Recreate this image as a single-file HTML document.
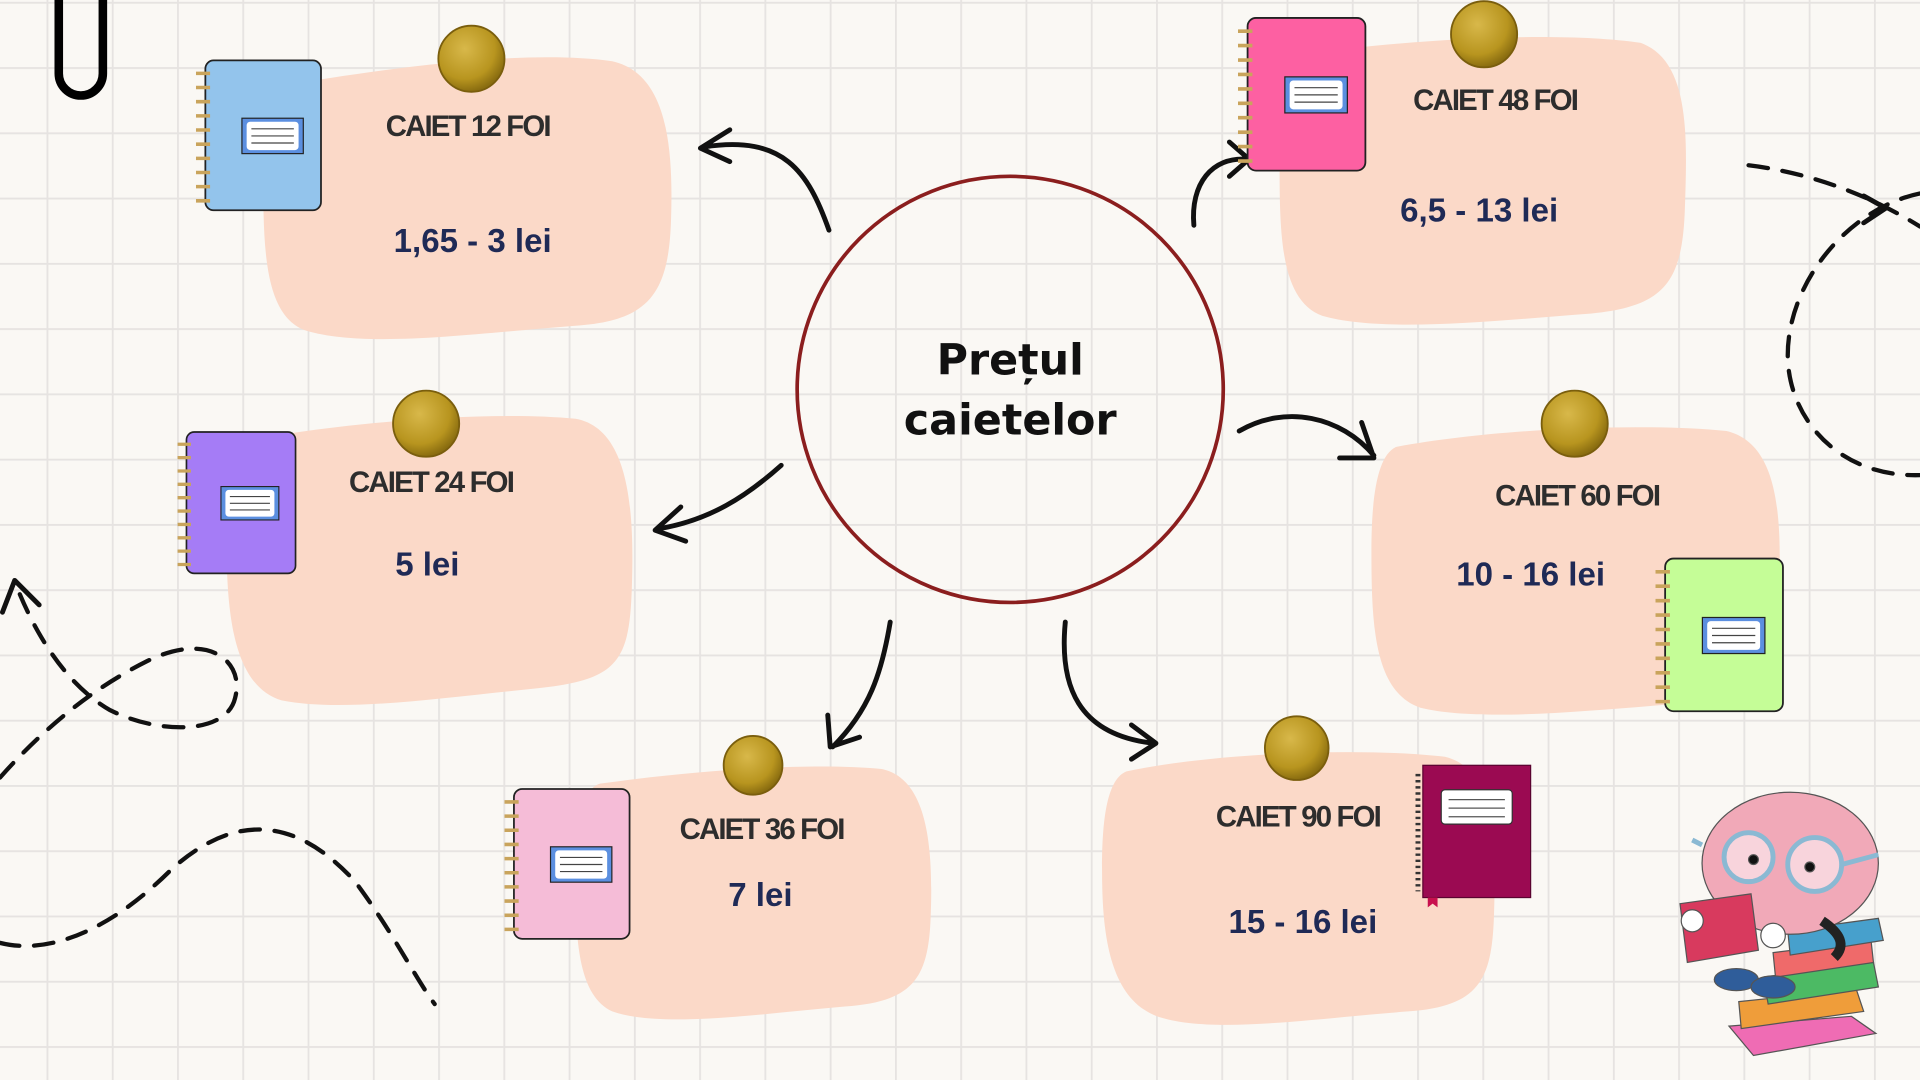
<!DOCTYPE html>
<html><head><meta charset="utf-8"><style>
html,body{margin:0;padding:0;background:#faf8f4;overflow:hidden}
svg{display:block}
.t{font-family:"Liberation Sans",sans-serif;font-weight:bold;font-size:24px;fill:#2d2d2d;letter-spacing:-1.5px}
.p{font-family:"Liberation Sans",sans-serif;font-weight:bold;font-size:27px;fill:#1f2a56}
.a{fill:none;stroke:#111;stroke-width:4;stroke-linecap:round;stroke-linejoin:round}
.d{fill:none;stroke:#111;stroke-width:3.5;stroke-dasharray:16 12;stroke-linecap:round}
</style></head><body>
<svg width="1920" height="1080" viewBox="0 0 1568 882" xmlns="http://www.w3.org/2000/svg">
<defs>
<pattern id="g" x="38" y="1.5" width="53.3" height="53.3" patternUnits="userSpaceOnUse">
<path d="M0 0V53.3M0 0H53.3" stroke="#e6e3e1" stroke-width="3"/>
</pattern>
<symbol id="nb" viewBox="0 0 110 130">
<rect x="8" y="1" width="98" height="127" rx="7" fill="currentColor" stroke="#222" stroke-width="1.5"/>
<g stroke="#c9a45c" stroke-width="3">
<path d="M0 12h12M0 24h12M0 36h12M0 48h12M0 60h12M0 72h12M0 84h12M0 96h12M0 108h12M0 120h12"/>
</g>
<rect x="39" y="50" width="52" height="30" fill="#5b8fe0" stroke="#222" stroke-width="1"/>
<rect x="43" y="53" width="44" height="24" rx="3" fill="#fff"/>
<path d="M47 59h36M47 65h36M47 71h36" stroke="#444" stroke-width="1"/>
</symbol>
<radialGradient id="gold" cx="40%" cy="35%" r="65%"><stop offset="0" stop-color="#d8b84a"/><stop offset=".7" stop-color="#b8951f"/><stop offset="1" stop-color="#8a6d10"/></radialGradient>
</defs>
<rect width="1568" height="882" fill="#faf8f4"/>
<rect width="1568" height="882" fill="url(#g)"/>

<path d="M48 0V60a18 18 0 0 0 36 0V0" fill="none" stroke="#000" stroke-width="7"/>

<g fill="#fbd9c8">
<path d="M230 70 C320 55 430 40 500 50 C545 60 550 120 548 180 C546 240 530 262 470 266 C390 272 300 285 250 270 C215 258 215 200 215 140 C215 95 218 75 230 70Z"/>
<path d="M200 360 C280 345 400 335 470 342 C515 350 518 420 516 480 C514 540 505 555 440 562 C360 570 280 582 230 572 C190 560 185 500 185 440 C185 390 188 365 200 360Z"/>
<path d="M490 640 C560 630 660 622 720 628 C760 636 762 700 760 750 C758 800 745 818 690 822 C620 828 540 840 500 826 C470 812 470 760 470 710 C470 670 475 645 490 640Z"/>
<path d="M1060 45 C1150 32 1270 25 1340 35 C1380 50 1378 110 1376 170 C1374 230 1360 250 1300 256 C1220 262 1130 272 1080 258 C1045 245 1045 190 1045 130 C1045 85 1048 50 1060 45Z"/>
<path d="M1140 365 C1220 350 1340 345 1410 352 C1452 362 1455 420 1453 480 C1451 540 1440 568 1380 574 C1300 580 1210 590 1160 578 C1122 565 1120 510 1120 450 C1120 405 1125 372 1140 365Z"/>
<path d="M920 630 C990 615 1110 610 1180 618 C1222 628 1222 690 1220 750 C1218 800 1208 822 1150 826 C1070 832 990 845 945 830 C905 815 900 760 900 710 C900 665 905 636 920 630Z"/>
</g>

<circle cx="825" cy="318" r="174" fill="none" stroke="#8b1e1e" stroke-width="3"/>
<text x="825" y="306" text-anchor="middle" font-family="DejaVu Sans,Liberation Sans,sans-serif" font-weight="bold" font-size="35" fill="#111">Prețul</text>
<text x="825" y="355" text-anchor="middle" font-family="DejaVu Sans,Liberation Sans,sans-serif" font-weight="bold" font-size="35" fill="#111">caietelor</text>

<path class="a" d="M677 188 C660 140 640 110 575 120 M596 106 L572 121 L596 132"/>
<path class="a" d="M975 184 C972 150 990 128 1018 130 M1004 116 L1020 130 L1004 144"/>
<path class="a" d="M638 380 C610 405 580 425 537 432 M556 414 L535 433 L560 442"/>
<path class="a" d="M1012 352 C1050 330 1095 340 1122 372 M1094 374 L1122 374 L1112 345"/>
<path class="a" d="M727 508 C720 550 710 580 680 610 M676 584 L678 610 L702 602"/>
<path class="a" d="M870 508 C865 560 880 600 942 607 M924 592 L944 607 L924 620"/>

<path class="d" d="M1428 135 C1470 140 1520 155 1568 185"/>
<path class="a" d="M1522 160 L1540 170 L1522 182" stroke-width="3.5"/>
<path class="d" d="M1568 158 C1510 170 1460 230 1460 290 C1460 340 1500 390 1568 388"/>
<path class="d" d="M0 635 C40 590 80 560 120 540 C170 515 200 540 192 570 C185 600 130 600 90 580 C55 560 30 520 14 480"/>
<path class="a" d="M2 500 L12 474 L32 494" stroke-width="3.5"/>
<path class="d" d="M0 770 C40 780 90 760 140 710 C190 665 240 665 290 720 C320 760 340 800 355 820"/>

<use href="#nb" x="160" y="46" width="106" height="130" color="#93c4ec"/>
<use href="#nb" x="145" y="350" width="100" height="122" color="#a57cf6"/>
<use href="#nb" x="412" y="641" width="106" height="130" color="#f5bcd7"/>
<use href="#nb" x="1011" y="12" width="108" height="131" color="#fd60a2"/>
<use href="#nb" x="1352" y="454" width="108" height="130" color="#c5fd97"/>
<g>
<rect x="1162" y="625" width="88" height="108" fill="#9b0a52" stroke="#5a0330" stroke-width="1"/>
<path d="M1158 632v96" stroke="#333" stroke-width="4" stroke-dasharray="2 3"/>
<rect x="1177" y="645" width="58" height="28" rx="3" fill="#fff" stroke="#333"/>
<path d="M1183 653h46M1183 660h46M1183 667h46" stroke="#555"/>
<path d="M1166 733v8l4-3 4 3v-8" fill="#c8104e"/>
</g>

<g fill="url(#gold)" stroke="#7a5e0d" stroke-width="1.5">
<circle cx="385" cy="48" r="27"/><circle cx="348" cy="346" r="27"/><circle cx="615" cy="625" r="24"/>
<circle cx="1212" cy="28" r="27"/><circle cx="1286" cy="346" r="27"/><circle cx="1059" cy="611" r="26"/>
</g>

<text class="t" x="382" y="111" text-anchor="middle">CAIET 12 FOI</text>
<text class="p" x="386" y="206" text-anchor="middle">1,65 - 3 lei</text>
<text class="t" x="352" y="402" text-anchor="middle">CAIET 24 FOI</text>
<text class="p" x="349" y="470" text-anchor="middle">5 lei</text>
<text class="t" x="622" y="685" text-anchor="middle">CAIET 36 FOI</text>
<text class="p" x="621" y="740" text-anchor="middle">7 lei</text>
<text class="t" x="1221" y="90" text-anchor="middle">CAIET 48 FOI</text>
<text class="p" x="1208" y="181" text-anchor="middle">6,5 - 13 lei</text>
<text class="t" x="1288" y="413" text-anchor="middle">CAIET 60 FOI</text>
<text class="p" x="1250" y="478" text-anchor="middle">10 - 16 lei</text>
<text class="t" x="1060" y="675" text-anchor="middle">CAIET 90 FOI</text>
<text class="p" x="1064" y="762" text-anchor="middle">15 - 16 lei</text>

<g stroke="#555" stroke-width="1">
<path d="M1412 838l100 -8 20 14 -100 18z" fill="#ef6cb4"/>
<path d="M1420 818l96 -10 6 18 -100 14z" fill="#ef9d3a"/>
<path d="M1440 798l90 -12 4 20 -90 14z" fill="#4cba64"/>
<path d="M1448 778l80 -10 2 18 -80 12z" fill="#ef6a6a"/>
<path d="M1460 760l74 -10 4 18 -76 12z" fill="#47a0cc"/>
<ellipse cx="1462" cy="705" rx="72" ry="58" fill="#f1a9b8"/>
<path d="M1488 752c15 10 20 20 10 30" stroke="#222" stroke-width="8" fill="none"/>
<path d="M1372 738l58 -8 6 46 -58 10z" fill="#d83a5e"/>
<circle cx="1428" cy="700" r="20" fill="#fff" fill-opacity=".5" stroke="#8ab9d3" stroke-width="4"/>
<circle cx="1482" cy="706" r="22" fill="#fff" fill-opacity=".5" stroke="#8ab9d3" stroke-width="4"/>
<path d="M1390 690l-8 -4M1504 706l30 -8" stroke="#8ab9d3" stroke-width="4"/>
<circle cx="1432" cy="702" r="4" fill="#111"/><circle cx="1478" cy="708" r="4" fill="#111"/>
<circle cx="1382" cy="752" r="9" fill="#fff"/><circle cx="1448" cy="764" r="10" fill="#fff"/>
<ellipse cx="1418" cy="800" rx="18" ry="9" fill="#2f5d9a"/><ellipse cx="1448" cy="806" rx="18" ry="9" fill="#2f5d9a"/>
</g>
</svg>
</body></html>
